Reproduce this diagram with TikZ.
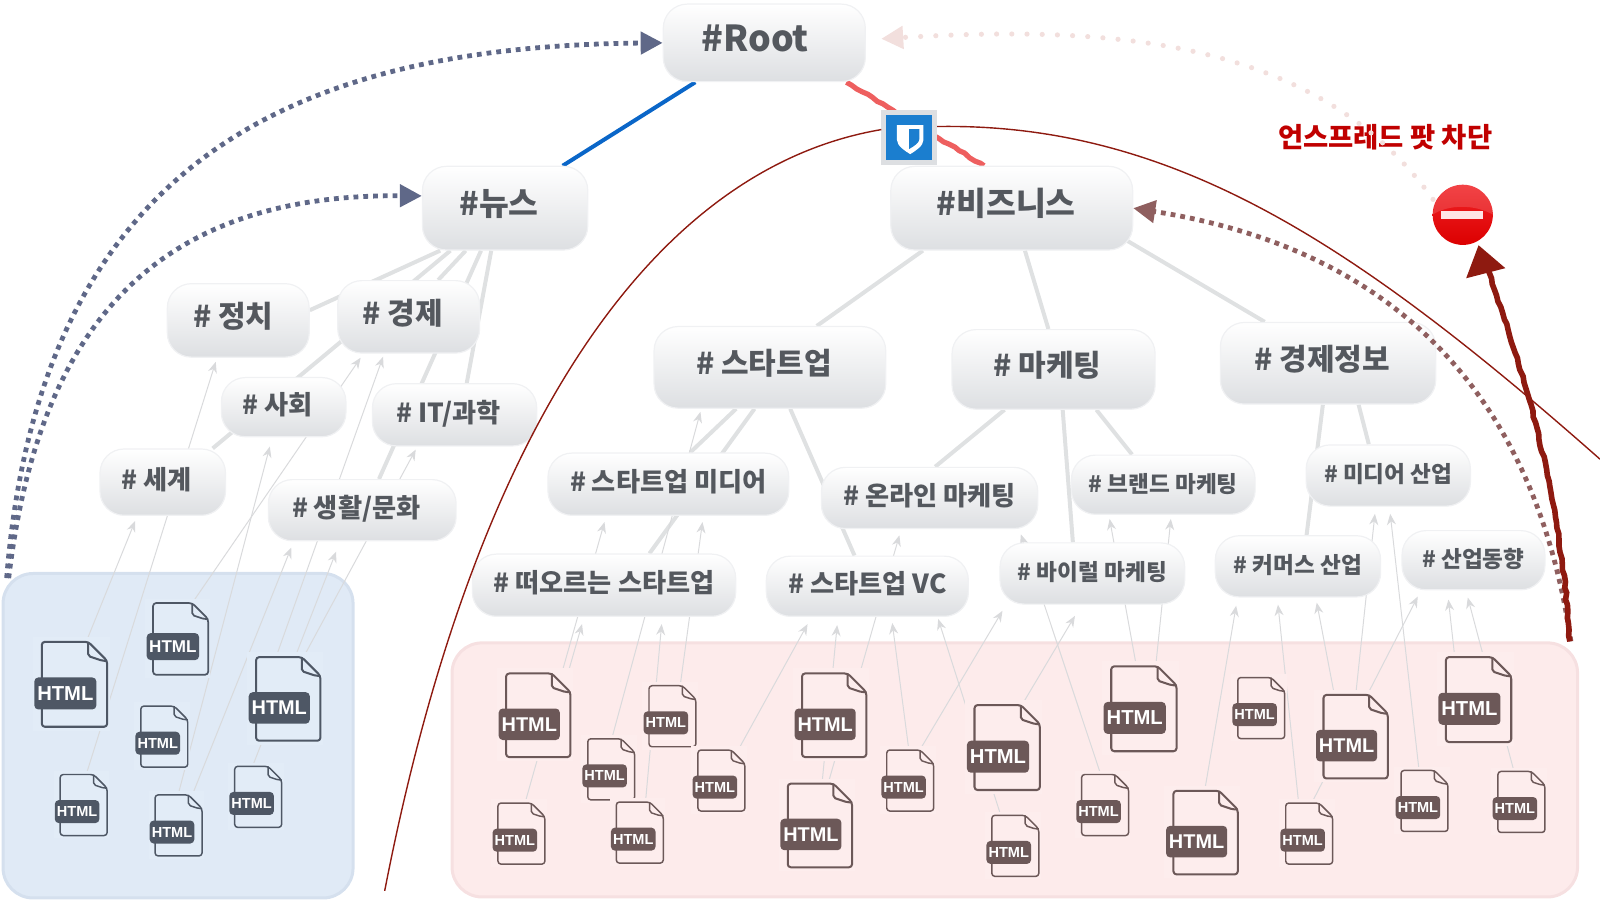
\documentclass[tikz,border=0pt]{standalone}
\usepackage{xcolor}
\usepackage{fontspec}
\usetikzlibrary{arrows.meta,decorations.pathmorphing}
\setmainfont{Noto Sans CJK KR}
\newfontfamily\htmlfont{Liberation Sans}
\definecolor{TagText}{HTML}{54585E}
\definecolor{TagLine}{HTML}{F0F1F3}
\definecolor{TagLow}{HTML}{DDDFE2}
\definecolor{TreeGrey}{HTML}{DFE1E2}
\definecolor{ThinGrey}{HTML}{D9DADC}
\definecolor{PanelBlue}{HTML}{E0EAF6}
\definecolor{EdgeBlue}{HTML}{D5E0EE}
\definecolor{PanelRed}{HTML}{FDEBEB}
\definecolor{EdgeRed}{HTML}{F6E0E1}
\definecolor{blueBack}{HTML}{E2ECF7}
\definecolor{blueInk}{HTML}{4E5765}
\definecolor{redBack}{HTML}{FDEDED}
\definecolor{redInk}{HTML}{6C5858}
\definecolor{LinkBlue}{HTML}{0A66C8}
\definecolor{LinkRed}{HTML}{EE5F5F}
\definecolor{DotBlue}{HTML}{5F6888}
\definecolor{DotBrown}{HTML}{8F5F5F}
\definecolor{DotPink}{HTML}{F2DFDD}
\definecolor{WallRed}{HTML}{8E1A10}
\definecolor{LabelRed}{HTML}{C00000}
\definecolor{ShieldBlue}{HTML}{1B7ECF}
\definecolor{StopTop}{HTML}{F02428}
\definecolor{StopLow}{HTML}{DC0000}
\def\px{0.5102pt}
\pgfdeclarelayer{panel}
\pgfdeclarelayer{edge}
\pgfsetlayers{panel,edge,main}
\tikzset{
  % Base tag
  TG/.style={rectangle,rounded corners=12pt,draw=TagLine,line width=0.6pt,
             top color=white,bottom color=TagLow,text=TagText,inner sep=0pt,
             align=center,text height=1em,text depth=0.26em},
  % Tag sizes
  tA/.style={TG,font=\fontsize{17.9}{20}\selectfont\bfseries,text height=1em,text depth=0.16em},
  tB/.style={TG,font=\fontsize{16.2}{18}\selectfont\bfseries},
  tC/.style={TG,font=\fontsize{15}{17}\selectfont\bfseries},
  tD/.style={TG,font=\fontsize{13.1}{15}\selectfont\bfseries},
  tE/.style={TG,font=\fontsize{11.3}{13}\selectfont\bfseries},
  % Text sits left of the middle in the upper tags
  lft/.style={execute at end node={\kern #1pt}},
  % Lines
  treeln/.style={TreeGrey,line width=2pt},
  arr/.style={ThinGrey,line width=0.5pt,-{Stealth[length=5.5pt,width=4.5pt]}},
  dotln/.style={line width=2.4pt,dash pattern=on 2.4pt off 2.5pt,-{Triangle[length=11pt,width=11pt]}},
  wall/.style={WallRed,line width=0.7pt},
  rough/.style={decorate,decoration={random steps,segment length=3pt,amplitude=0.45pt}},
  panelbox/.style={rectangle,rounded corners=15pt,line width=1.5pt,inner sep=0pt}
}
% name, left, top, width, tone
\newcommand{\htmlfile}[5]{%
  \pgfmathsetmacro{\dh}{#4*1.3}
  \pgfmathsetmacro{\fd}{#4*0.29}
  \pgfmathsetmacro{\fs}{#4*0.158}
  \fill[#5Back] (#2-#4*0.14,#3-#4*0.08) rectangle (#2+#4*1.04,#3+\dh+#4*0.06);
  \node[minimum width=#4*\px,minimum height=\dh*\px,inner sep=0pt] (#1) at (#2+#4/2,#3+\dh/2) {};
  \draw[#5Ink,line width=#4*0.016pt,line join=round,rounded corners=1.5pt]
    (#2+#4-\fd,#3) -- (#2+#4,#3+\fd) -- (#2+#4,#3+\dh) -- (#2,#3+\dh) -- (#2,#3) -- cycle;
  \draw[#5Ink,line width=#4*0.016pt,line join=round,rounded corners=1pt]
    (#2+#4-\fd,#3) -- (#2+#4-\fd,#3+\fd*0.75) -- (#2+#4-\fd*0.25,#3+\fd) -- (#2+#4,#3+\fd);
  \node[rectangle,rounded corners=2pt,fill=#5Ink,text=white,inner sep=0pt,
        minimum width=#4*0.95*\px,minimum height=#4*0.49*\px,
        font=\htmlfont\bfseries\fontsize{\fs}{\fs}\selectfont]
    (#1b) at (#2+#4*0.36,#3+#4*0.79) {HTML};
}
\begin{document}
\begin{tikzpicture}[x=0.5102pt,y=-0.5102pt]
  \useasboundingbox (0,0) rectangle (1568,884);
  \pgfmathsetseed{7}

  \begin{pgfonlayer}{panel}
    \node[panelbox,fill=PanelBlue,draw=EdgeBlue,minimum width=343*\px,minimum height=318*\px] (bluepanel) at (174.5,721) {};
    \node[panelbox,fill=PanelRed,draw=EdgeRed,minimum width=1103*\px,minimum height=249*\px] (redpanel) at (994.5,754.5) {};
  \end{pgfonlayer}

  % tags
  \node[tA,lft=9,minimum width=198*\px,minimum height=76*\px] (root) at (749,42) {\#Root};
  \node[tB,lft=6,minimum width=162*\px,minimum height=82*\px] (news) at (495,204) {\#뉴스};
  \node[tB,lft=5.5,minimum width=237*\px,minimum height=82*\px] (biz) at (991.5,204) {\#비즈니스};
  \node[tC,lft=5,minimum width=139*\px,minimum height=72*\px] (politics) at (233.5,314) {\# 정치};
  \node[tC,lft=6,minimum width=139*\px,minimum height=71*\px] (economy) at (400.5,310.5) {\# 경제};
  \node[tD,lft=6,minimum width=122*\px,minimum height=58*\px] (society) at (278,399) {\# 사회};
  \node[tD,lft=6,minimum width=161*\px,minimum height=61*\px] (science) at (445.5,406.5) {\# IT/과학};
  \node[tD,lft=6,minimum width=123*\px,minimum height=65*\px] (world) at (159.5,472.5) {\# 세계};
  \node[tD,lft=6,minimum width=184*\px,minimum height=60*\px] (life) at (355,500) {\# 생활/문화};
  \node[tC,lft=6,minimum width=227*\px,minimum height=80*\px] (startup) at (754.5,360) {\# 스타트업};
  \node[tC,lft=6,minimum width=199*\px,minimum height=78*\px] (market) at (1032.5,362) {\# 마케팅};
  \node[tC,lft=6,minimum width=211*\px,minimum height=80*\px] (econinfo) at (1301.5,356) {\# 경제정보};
  \node[tD,minimum width=236*\px,minimum height=61*\px] (stmedia) at (655,474.5) {\# 스타트업 미디어};
  \node[tD,minimum width=212*\px,minimum height=60*\px] (online) at (911,488) {\# 온라인 마케팅};
  \node[tE,minimum width=180*\px,minimum height=58*\px] (brand) at (1140,475) {\# 브랜드 마케팅};
  \node[tE,minimum width=161*\px,minimum height=60*\px] (mediaind) at (1360.5,466) {\# 미디어 산업};
  \node[tD,minimum width=258*\px,minimum height=61*\px] (rising) at (592,573.5) {\# 떠오르는 스타트업};
  \node[tD,minimum width=198*\px,minimum height=59*\px] (stvc) at (850,574.5) {\# 스타트업 VC};
  \node[tE,minimum width=181*\px,minimum height=60*\px] (viral) at (1070.5,562) {\# 바이럴 마케팅};
  \node[tE,minimum width=162*\px,minimum height=60*\px] (commerce) at (1272,555) {\# 커머스 산업};
  \node[tE,minimum width=140*\px,minimum height=58*\px] (trend) at (1444,549) {\# 산업동향};

  % html files
  \foreach \n/\x/\y/\w/\t in {
    fa/41/629/64/blue,fb/150/591/54/blue,fc/138/692/46/blue,fd/251/644/63/blue,
    fe/59/759/46/blue,ff/152/779/46/blue,fg/230/751/46/blue,
    ga/496/660/63/red,gb/576/724/46/red,gc/636/672/46/red,gd/684/735/46/red,
    ge/488/787/46/red,gf/604/786/46/red,gg/786/660/63/red,gh/772/768/63/red,
    gi/869/735/46/red,gj/955/691/64/red,gk/972/799/46/red,gl/1089/653/64/red,
    gm/1060/759/46/red,gn/1213/664/46/red,go/1150/775/63/red,gp/1297/681/63/red,
    gq/1260/787/46/red,gr/1417/644/64/red,gs/1373/755/46/red,gt/1468/756/46/red}
    {\htmlfile{\n}{\x}{\y}{\w}{\t}}

  \begin{pgfonlayer}{edge}
    % tag tree
    \draw[treeln,LinkBlue] ([xshift=32*\px]root.south west) -- ([xshift=138*\px]news.north west);
    \draw[treeln,LinkRed,line width=2.6pt,rough] ([xshift=180*\px]root.south west) -- ([xshift=92*\px]biz.north west);
    \draw[treeln] ([xshift=18*\px]news.south west) -- ([yshift=10*\px]politics.east);
    \draw[treeln] ([xshift=-15*\px,yshift=15*\px]biz.south east) -- ([xshift=44*\px]econinfo.north west);
    \foreach \a/\ax/\b/\bx in {
      news/28/world/111,news/43/economy/99,news/58/life/109,news/68/science/93,
      biz/32/startup/160,biz/132/market/95,
      startup/81/stmedia/140,startup/99/rising/174,startup/134/stvc/87,
      market/52/online/112,market/109/viral/72,market/142/brand/60,
      econinfo/101/commerce/90,econinfo/136/mediaind/62}
      \draw[treeln] ([xshift=\ax*\px]\a.south west) -- ([xshift=\bx*\px]\b.north west);
    % file links
    \foreach \f/\fx/\t/\tx/\ty in {
      fa/44/world/35/5,fe/26/politics/48/4,fb/39/economy/23/4,ff/23/society/48/9,
      ff/37/life/23/6,fd/20/economy/45/3,fg/18/life/67/10,fd/47/science/43/3,
      ge/27/stmedia/56/6,ga/61/rising/108/7,gf/29/rising/186/7,gb/24/startup/46/3,
      gc/31/stmedia/152/6,gd/40/stvc/41/7,gh/34/stvc/70/8,gh/40/online/77/6,
      gi/22/stvc/124/6,gi/33/viral/3/6,gk/9/stvc/169/2,gj/47/viral/74/11,
      gm/19/online/196/5,gl/25/brand/38/4,gl/44/brand/98/4,go/31/commerce/21/8,
      gq/13/commerce/62/7,gq/26/trend/16/6,gp/11/commerce/100/5,gp/32/mediaind/68/7,
      gs/18/mediaind/83/7,gr/9/trend/46/9,gt/16/trend/65/7}
      \draw[arr] ([xshift=\fx*\px]\f.north west) -- ([xshift=\tx*\px,yshift=-\ty*\px]\t.south west);
  \end{pgfonlayer}

  % blocked sign
  \node[circle,minimum size=59*\px,inner sep=0pt,top color=StopTop,bottom color=StopLow] (stop) at (1433.5,210.5) {};
  \fill[white,opacity=0.14] (stop.west) .. controls (1420,200) and (1445,200) .. (stop.east) arc[start angle=0,end angle=-180,radius=29.5] -- cycle;
  \node[rectangle,fill=white!90!red,minimum width=41*\px,minimum height=8*\px,inner sep=0pt] (stopbar) at (1433,210.5) {};
  \node[text=LabelRed,font=\fontsize{13.7}{15}\selectfont\bfseries] (blocked) at (1357.5,134) {언스프레드 팟 차단};

  % crawl wall
  \coordinate (wallstart) at (377,873);
  \coordinate (wallend) at (1568,450);
  \node[rectangle,fill=ShieldBlue,draw=TagLow,line width=2.4pt,minimum width=50*\px,minimum height=49*\px,inner sep=0pt] (guard) at (891,135) {};
  \fill[white] (879,122.5) -- (905,122.5) -- (905,137) .. controls (905,143) and (897,148) .. (892,151)
     .. controls (887,148) and (879,143) .. (879,137) -- cycle;
  \fill[ShieldBlue] (891,126.5) -- (901,126.5) -- (901,136) .. controls (901,140) and (896,143) .. (891,146) -- cycle;
  \draw[wall] (wallstart) .. controls (465,420) and (640,165) .. ([yshift=8*\px]guard.west);
  \draw[wall] ([yshift=11*\px]guard.east) .. controls (1150,120) and (1330,240) .. (wallend);

  % crawl paths
  \draw[dotln,DotBlue] ([xshift=5*\px,yshift=-6*\px]bluepanel.north west) .. controls (40,150) and (300,45) .. (root.west);
  \draw[dotln,DotBlue] ([xshift=7*\px,yshift=-6*\px]bluepanel.north west) .. controls (40,300) and (170,190) .. ([yshift=12*\px]news.west);
  \draw[dotln,DotBrown] ([xshift=-8*\px]redpanel.north east) .. controls (1500,360) and (1340,240) .. (biz.east);
  \draw[DotPink,line width=2.6pt,line cap=round,dash pattern=on 0pt off 7.6pt,-{Triangle[length=11pt,width=11pt]}] ([xshift=-8*\px,yshift=-6*\px]stop.north west) .. controls (1290,35) and (1080,25) .. ([xshift=15*\px,yshift=4*\px]root.east);
  \draw[WallRed,line width=2.8pt,rough,-{Triangle[length=14.5pt,width=19.5pt]}] ([xshift=-9*\px]redpanel.north east) .. controls (1530,500) and (1503,385) .. ([xshift=15.5*\px]stop.south);
\end{tikzpicture}
\end{document}
